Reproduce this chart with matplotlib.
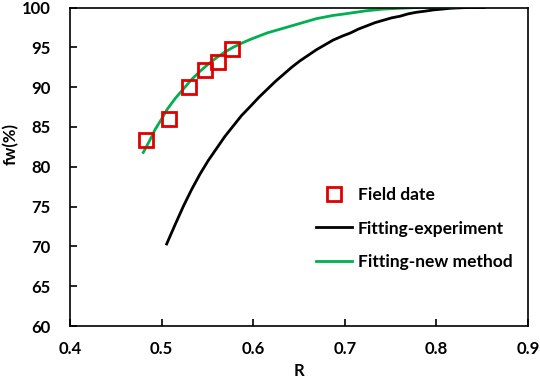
import matplotlib.pyplot as plt

plt.rcParams['font.family'] = ['Lato', 'DejaVu Sans']
plt.rcParams['font.weight'] = 'bold'

# Field data
field_r = [0.483, 0.508, 0.530, 0.547, 0.561, 0.577]
field_fw = [83.3, 86.0, 90.0, 92.1, 93.2, 94.8]

# Fitting-experiment curve
exp_r = [0.5055, 0.515, 0.524, 0.533, 0.542, 0.551, 0.560, 0.569, 0.578, 0.587,
         0.597, 0.606, 0.615, 0.624, 0.633, 0.642, 0.651, 0.660, 0.669, 0.678,
         0.687, 0.697, 0.706, 0.715, 0.724, 0.733, 0.742, 0.751, 0.760, 0.769,
         0.778, 0.788, 0.797, 0.806, 0.815, 0.824, 0.833, 0.842, 0.852]
exp_fw = [70.3, 72.8, 75.1, 77.2, 79.1, 80.8, 82.3, 83.8, 85.1, 86.4,
          87.6, 88.7, 89.7, 90.7, 91.6, 92.5, 93.3, 94.0, 94.7, 95.3,
          95.9, 96.4, 96.8, 97.3, 97.7, 98.1, 98.4, 98.7, 98.9, 99.2,
          99.4, 99.55, 99.7, 99.8, 99.9, 99.95, 100.0, 100.0, 100.0]

# Fitting-new method curve
new_r = [0.480, 0.487, 0.493, 0.500, 0.506, 0.515, 0.524, 0.533, 0.542, 0.551,
         0.560, 0.569, 0.578, 0.587, 0.597, 0.606, 0.615, 0.624, 0.633, 0.642,
         0.651, 0.660, 0.669, 0.678, 0.687, 0.697, 0.706, 0.715, 0.724, 0.733,
         0.742, 0.751, 0.760, 0.770, 0.780, 0.790, 0.800, 0.811, 0.822]
new_fw = [81.8, 83.3, 84.7, 86.0, 87.2, 88.6, 89.8, 91.0, 92.0, 92.9,
          93.7, 94.4, 95.0, 95.5, 96.0, 96.4, 96.8, 97.1, 97.4, 97.7,
          98.0, 98.3, 98.6, 98.8, 99.0, 99.15, 99.3, 99.45, 99.6, 99.7,
          99.8, 99.85, 99.9, 99.95, 100.0, 100.0, 100.0, 100.0, 100.0]

fig = plt.figure(figsize=(5.4, 3.79), dpi=100)
ax = fig.add_axes([0.1296, 0.1398, 0.8484, 0.8404])

ax.plot(field_r, field_fw, linestyle='none', marker='s', markersize=10,
        markerfacecolor='none', markeredgecolor='#e00000', markeredgewidth=2,
        label='Field date', zorder=3)
ax.plot(exp_r, exp_fw, color='black', linewidth=2, label='Fitting-experiment')
ax.plot(new_r, new_fw, color='#00b050', linewidth=2, label='Fitting-new method')

ax.set_xlim(0.4, 0.9)
ax.set_ylim(60, 100)
ax.set_xticks([0.4, 0.5, 0.6, 0.7, 0.8, 0.9])
ax.set_yticks(range(60, 101, 5))
ax.tick_params(axis='x', direction='in', length=5, width=1.2, labelsize=12, pad=11)
ax.tick_params(axis='y', direction='in', length=5, width=1.2, labelsize=12, pad=14)
for lbl in ax.get_xticklabels() + ax.get_yticklabels():
    lbl.set_fontweight('bold')
for sp in ax.spines.values():
    sp.set_linewidth(1.2)

ax.set_xlabel('R', fontsize=12, fontweight='bold', labelpad=4)
ax.set_ylabel('fw(%)', fontsize=12, fontweight='bold')
ax.yaxis.set_label_coords(-0.111, 0.571)

leg = ax.legend(loc='upper left', bbox_to_anchor=(0.537, 0.437), frameon=False,
                fontsize=12.5, labelspacing=1.02, handlelength=2.07,
                handletextpad=0.35, borderpad=0, borderaxespad=0)
for t in leg.get_texts():
    t.set_fontweight('bold')

fig.savefig('out.png', dpi=100)
